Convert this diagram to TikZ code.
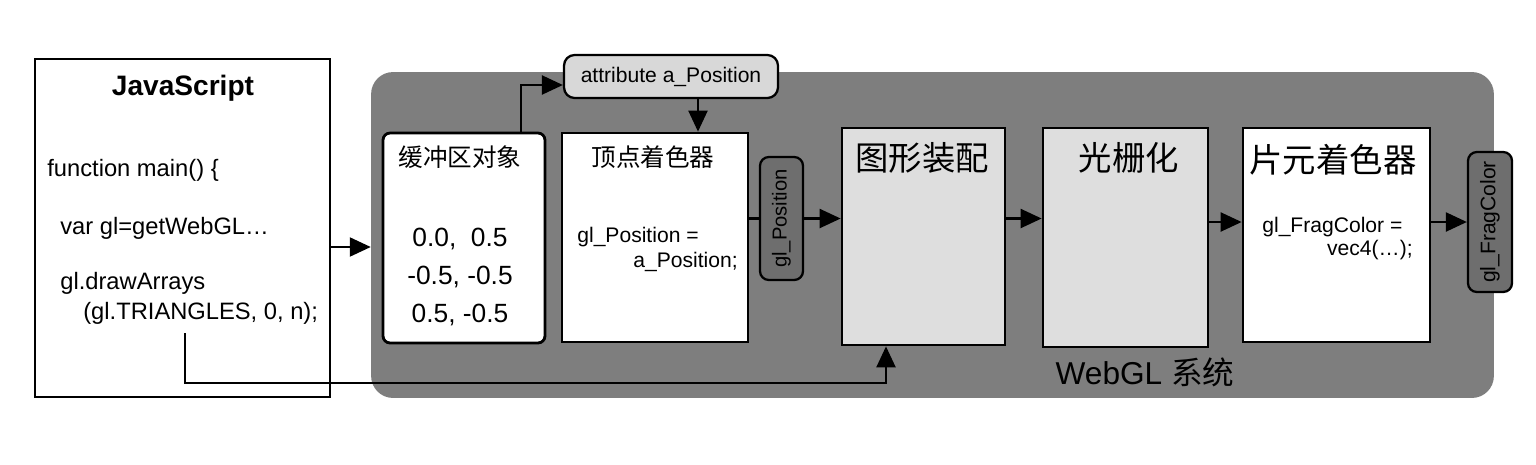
\documentclass[tikz,border=0pt]{standalone}
\usepackage{fontspec}
\setmainfont{Liberation Sans}
\newfontfamily\cjk{Noto Sans CJK SC}
\usepackage{xcolor}
\usepackage{tikz}
\usetikzlibrary{arrows.meta, positioning}
\definecolor{panelgray}{RGB}{126,126,126}
\definecolor{stagegray}{RGB}{222,222,222}
\definecolor{taggray}{RGB}{110,110,110}
\definecolor{attrgray}{RGB}{216,216,216}
\tikzstyle{stagebox} = [rectangle, draw=black, line width=1.6pt,
fill=white, inner sep=0pt]
\tikzstyle{tagbox} = [rectangle, rounded corners=5pt, draw=black,
line width=1.3pt, fill=taggray, inner sep=0pt,
font=\fontsize{11.5}{13}\selectfont]
\tikzstyle{smalltitle} = [inner sep=0pt, font=\cjk\fontsize{14}{16}\selectfont]
\tikzstyle{bigtitle} = [inner sep=0pt, font=\cjk\fontsize{19}{21}\selectfont]
\tikzstyle{code} = [inner sep=0pt, font=\fontsize{12}{14}\selectfont]
\tikzstyle{jscode} = [inner sep=0pt, anchor=west, font=\fontsize{13.5}{16}\selectfont]
\tikzstyle{arrow} = [-{Triangle[length=0.42cm, width=0.38cm]}, line width=1.3pt, draw=black]

\begin{document}
\begin{tikzpicture}[x=0.02cm, y=-0.02cm]
    \useasboundingbox (0,0) rectangle (1536,464);

    % WebGL system panel
    \node (panel) [rectangle, rounded corners=0.44cm, fill=panelgray,
    minimum width=22.46cm, minimum height=6.52cm] at (932.5,235) {};
    \node (sysname) [inner sep=0pt, font=\fontsize{18}{20}\selectfont]
    at (1145,372) {WebGL {\cjk 系统}};

    % JavaScript side
    \node (js) [stagebox, minimum width=5.9cm, minimum height=6.76cm] at (182.5,228) {};
    \node (jstitle) [inner sep=0pt, font=\bfseries\fontsize{16}{18}\selectfont]
    at (183,88) {JavaScript};
    \node (jsl1) [jscode] at (47,170) {function main() \{};
    \node (jsl2) [jscode] at (60,228) {var gl=getWebGL\dots};
    \node (jsl3) [jscode] at (60,283) {gl.drawArrays};
    \node (jsl4) [jscode] at (83,313) {(gl.TRIANGLES, 0, n);};
    \coordinate (call) at (185,333);
    \coordinate (turn) at (886,383);

    % buffer and vertex shader
    \node (buf) [stagebox, rounded corners=4pt, minimum width=3.24cm,
    minimum height=4.2cm] at (464,238) {};
    \node (buftitle) [smalltitle] at (460,157) {缓冲区对象};
    \node (bufdata) [inner sep=0pt, align=center,
    font=\fontsize{15}{21.5}\selectfont] at (460,277)
    {0.0,\ \ 0.5\\-0.5, -0.5\\0.5, -0.5};

    \node (attr) [rectangle, rounded corners=6pt, draw=black, line width=1.3pt,
    fill=attrgray, minimum width=4.28cm, minimum height=0.86cm, inner sep=0pt,
    font=\fontsize{12}{14}\selectfont] at (671,76.5) {attribute a\_Position};

    \node (vs) [stagebox, minimum width=3.72cm, minimum height=4.18cm] at (655,237.5) {};
    \node (vstitle) [smalltitle] at (653,157) {顶点着色器};
    \node (vsl1) [code, anchor=west] at (577,237) {gl\_Position =};
    \node (vsl2) [code, anchor=east] at (738,262) {a\_Position;};

    \node (glpos) [tagbox, rotate=90, minimum width=2.46cm, minimum height=0.86cm]
    at (781.5,218.5) {gl\_Position};

    % assembly, rasterization, fragment shader
    \node (asm) [stagebox, fill=stagegray, minimum width=3.26cm,
    minimum height=4.34cm] at (923.5,236.5) {};
    \node (asmtitle) [bigtitle] at (922,158) {图形装配};

    \node (ras) [stagebox, fill=stagegray, minimum width=3.3cm,
    minimum height=4.38cm] at (1125.5,237.5) {};
    \node (rastitle) [bigtitle] at (1129,158) {光栅化};

    \node (fs) [stagebox, minimum width=3.74cm, minimum height=4.28cm] at (1336.5,235) {};
    \node (fstitle) [bigtitle] at (1333,160) {片元着色器};
    \node (fsl1) [code, anchor=west] at (1262,227) {gl\_FragColor =};
    \node (fsl2) [code, anchor=east] at (1413,250) {vec4(\dots);};

    \node (fragtag) [tagbox, rotate=90, minimum width=2.8cm, minimum height=0.88cm,
    font=\fontsize{12}{14}\selectfont] at (1490,222) {gl\_FragColor};

    \draw[arrow] ([yshift=-0.38cm]js.east) -- ([yshift=-0.38cm]js.east -| panel.west);
    \draw[arrow] (call) |- (turn) -- (turn |- asm.south);
    \draw[arrow] ([xshift=1.14cm]buf.north) |- ([yshift=-0.17cm]attr.west);
    \draw[arrow] ([xshift=0.54cm]attr.south) -- ([xshift=0.54cm]attr.south |- vs.north);
    \draw[line width=1.3pt] (vs.east |- glpos) -- (glpos);
    \draw[arrow] (glpos) -- (asm.west |- glpos);
    \draw[arrow] (asm.east |- glpos) -- (ras.west |- glpos);
    \draw[arrow] (ras.east |- fragtag) -- (fs.west |- fragtag);
    \draw[arrow] (fs.east |- fragtag) -- (fragtag);
        \end{tikzpicture}
\end{document}
